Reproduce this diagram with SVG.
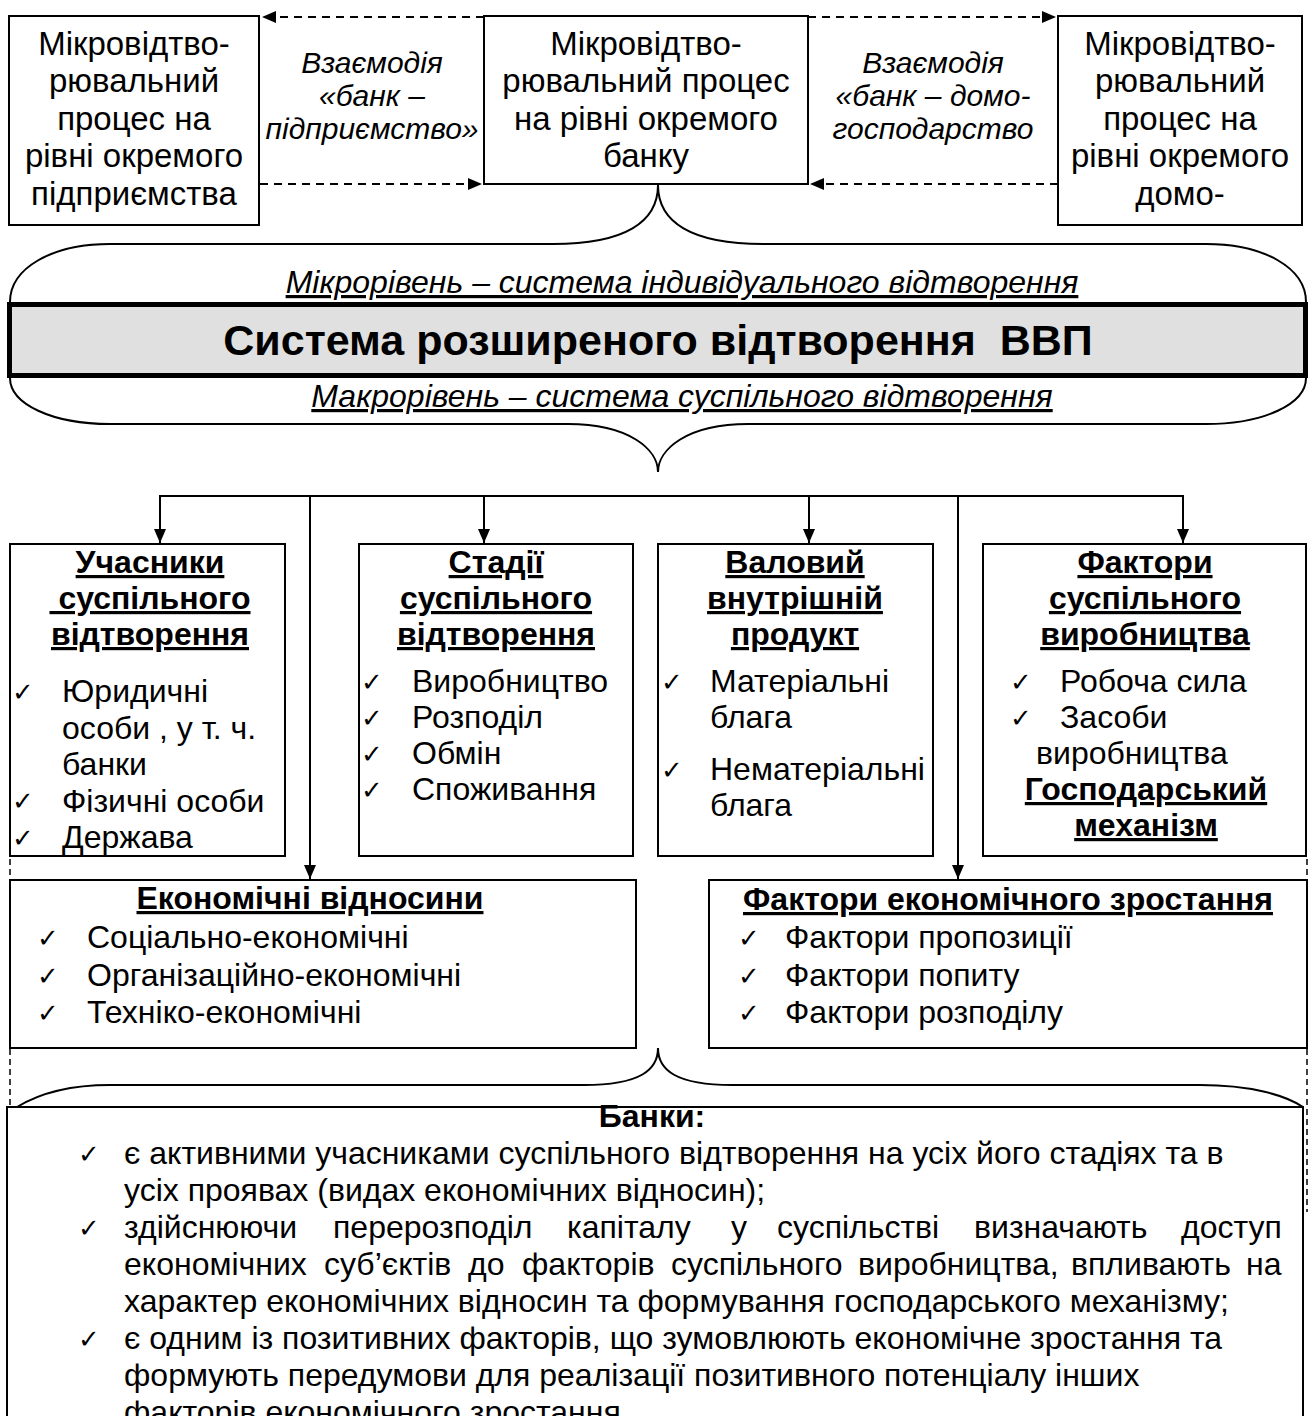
<svg xmlns="http://www.w3.org/2000/svg" width="1309" height="1416" viewBox="0 0 1309 1416">
<style>
text{font-family:"Liberation Sans",Arial,sans-serif;fill:#000}
.t{font-size:32px}
.tc{font-size:33px;text-anchor:middle}
.it{font-size:30px;font-style:italic;text-anchor:middle}
.lvl{font-size:32px;font-style:italic;text-anchor:middle;text-decoration:underline;text-decoration-skip-ink:none}
.h{font-size:32px;font-weight:bold;text-anchor:middle;text-decoration:underline;text-decoration-skip-ink:none}
.ck{font-family:"DejaVu Sans",sans-serif;font-size:26px}
.box{fill:#fff;stroke:#000;stroke-width:2}
.ln{fill:none;stroke:#000;stroke-width:2}
.dash{fill:none;stroke:#000;stroke-width:2;stroke-dasharray:8 6}
.dv{fill:none;stroke:#000;stroke-width:1.5;stroke-dasharray:6 4}
</style>
<defs>
<marker id="arr" markerUnits="userSpaceOnUse" markerWidth="14" markerHeight="12" refX="14" refY="6" orient="auto">
<path d="M0,0 L14,6 L0,12 z" fill="#000"/>
</marker>
</defs>
<rect width="1309" height="1416" fill="#fff"/>

<g id="connectors">
<line class="dash" x1="484" y1="17" x2="262" y2="17" marker-end="url(#arr)"/>
<line class="dash" x1="260" y1="184" x2="482" y2="184" marker-end="url(#arr)"/>
<line class="dash" x1="808" y1="17" x2="1056" y2="17" marker-end="url(#arr)"/>
<line class="dash" x1="1058" y1="184" x2="810" y2="184" marker-end="url(#arr)"/>
<path class="ln" d="M10 302 C10 268 52 244 110 244 L553 244 C625 244 658 222 658 185 C658 222 691 244 763 244 L1206 244 C1264 244 1306 268 1306 302"/>
<path class="ln" d="M10 378 C10 404 52 424 110 424 L568 424 C630 424 658 450 658 472 C658 450 686 424 748 424 L1206 424 C1264 424 1306 404 1306 378"/>
<line class="ln" x1="160" y1="496" x2="1183" y2="496"/>
<line class="ln" x1="160" y1="495" x2="160" y2="543" marker-end="url(#arr)"/>
<line class="ln" x1="484" y1="495" x2="484" y2="543" marker-end="url(#arr)"/>
<line class="ln" x1="809" y1="495" x2="809" y2="543" marker-end="url(#arr)"/>
<line class="ln" x1="1183" y1="495" x2="1183" y2="543" marker-end="url(#arr)"/>
<line class="ln" x1="310" y1="496" x2="310" y2="879" marker-end="url(#arr)"/>
<line class="ln" x1="958" y1="496" x2="958" y2="879" marker-end="url(#arr)"/>
<line class="dv" x1="10" y1="859" x2="10" y2="1107"/>
<line class="dv" x1="1307" y1="859" x2="1307" y2="1212"/>
<path class="ln" d="M17 1107 C40 1093 70 1085 110 1085 L584 1085 C640 1085 658 1070 658 1048 C658 1070 676 1085 732 1085 L1200 1085 C1250 1085 1285 1095 1303 1107"/>
</g>

<g id="node-enterprise">
<rect class="box" x="9" y="16" width="250" height="209"/>
<text class="tc" x="134" y="54.5">Мікровідтво-</text>
<text class="tc" x="134" y="92">рювальний</text>
<text class="tc" x="134" y="129.5">процес на</text>
<text class="tc" x="134" y="167">рівні окремого</text>
<text class="tc" x="134" y="204.5">підприємства</text>
</g>

<g id="label-bank-enterprise">
<text class="it" x="372" y="73">Взаємодія</text>
<text class="it" x="372" y="106">«банк –</text>
<text class="it" x="372" y="139">підприємство»</text>
</g>

<g id="node-bank">
<rect class="box" x="484" y="16" width="324" height="168"/>
<text class="tc" x="646" y="54.5">Мікровідтво-</text>
<text class="tc" x="646" y="92">рювальний процес</text>
<text class="tc" x="646" y="129.5">на рівні окремого</text>
<text class="tc" x="646" y="167">банку</text>
</g>

<g id="label-bank-household">
<text class="it" x="933" y="73">Взаємодія</text>
<text class="it" x="933" y="106">«банк – домо-</text>
<text class="it" x="933" y="139">господарство</text>
</g>

<g id="node-household">
<rect class="box" x="1058" y="16" width="244" height="209"/>
<text class="tc" x="1180" y="54.5">Мікровідтво-</text>
<text class="tc" x="1180" y="92">рювальний</text>
<text class="tc" x="1180" y="129.5">процес на</text>
<text class="tc" x="1180" y="167">рівні окремого</text>
<text class="tc" x="1180" y="204.5">домо-</text>
</g>

<g id="node-system">
<text class="lvl" x="682" y="293">Мікрорівень – система індивідуального відтворення</text>
<rect x="9.5" y="304.5" width="1296" height="71" fill="#e0e0e0" stroke="#000" stroke-width="5"/>
<text x="658" y="355" font-size="43" font-weight="bold" text-anchor="middle" xml:space="preserve">Система розширеного відтворення  ВВП</text>
<text class="lvl" x="682" y="407">Макрорівень – система суспільного відтворення</text>
</g>

<g id="node-participants">
<rect class="box" x="10" y="544" width="275" height="312"/>
<text class="h" x="150" y="573">Учасники</text>
<text class="h" x="150" y="609" xml:space="preserve"> суспільного</text>
<text class="h" x="150" y="645">відтворення</text>
<text class="ck" x="12" y="701">✓</text><text class="t" x="62" y="702">Юридичні</text>
<text class="t" x="62" y="738.5">особи , у т. ч.</text>
<text class="t" x="62" y="775">банки</text>
<text class="ck" x="12" y="810">✓</text><text class="t" x="62" y="811.5">Фізичні особи</text>
<text class="ck" x="12" y="847">✓</text><text class="t" x="62" y="848">Держава</text>
</g>

<g id="node-stages">
<rect class="box" x="359" y="544" width="274" height="312"/>
<text class="h" x="496" y="573">Стадії</text>
<text class="h" x="496" y="609">суспільного</text>
<text class="h" x="496" y="645">відтворення</text>
<text class="ck" x="361" y="691">✓</text><text class="t" x="412" y="692">Виробництво</text>
<text class="ck" x="361" y="727">✓</text><text class="t" x="412" y="728">Розподіл</text>
<text class="ck" x="361" y="763">✓</text><text class="t" x="412" y="764">Обмін</text>
<text class="ck" x="361" y="799">✓</text><text class="t" x="412" y="800">Споживання</text>
</g>

<g id="node-gdp">
<rect class="box" x="658" y="544" width="275" height="312"/>
<text class="h" x="795" y="573">Валовий</text>
<text class="h" x="795" y="609">внутрішній</text>
<text class="h" x="795" y="645">продукт</text>
<text class="ck" x="661" y="691">✓</text><text class="t" x="710" y="692">Матеріальні</text>
<text class="t" x="710" y="728">блага</text>
<text class="ck" x="661" y="779">✓</text><text class="t" x="710" y="780">Нематеріальні</text>
<text class="t" x="710" y="816">блага</text>
</g>

<g id="node-factors-production">
<rect class="box" x="983" y="544" width="323" height="312"/>
<text class="h" x="1145" y="573">Фактори</text>
<text class="h" x="1145" y="609">суспільного</text>
<text class="h" x="1145" y="645">виробництва</text>
<text class="ck" x="1010" y="691">✓</text><text class="t" x="1060" y="692">Робоча сила</text>
<text class="ck" x="1010" y="727">✓</text><text class="t" x="1060" y="728">Засоби</text>
<text class="t" x="1036" y="764">виробництва</text>
<text class="h" x="1146" y="800">Господарський</text>
<text class="h" x="1146" y="836">механізм</text>
</g>

<g id="node-economic-relations">
<rect class="box" x="10" y="880" width="626" height="168"/>
<text class="h" x="310" y="909">Економічні відносини</text>
<text class="ck" x="37" y="947">✓</text><text class="t" x="87" y="948">Соціально-економічні</text>
<text class="ck" x="37" y="985">✓</text><text class="t" x="87" y="986">Організаційно-економічні</text>
<text class="ck" x="37" y="1022">✓</text><text class="t" x="87" y="1023">Техніко-економічні</text>
</g>

<g id="node-growth-factors">
<rect class="box" x="709" y="880" width="598" height="168"/>
<text class="h" x="1008" y="910">Фактори економічного зростання</text>
<text class="ck" x="738" y="947">✓</text><text class="t" x="785" y="948">Фактори пропозиції</text>
<text class="ck" x="738" y="985">✓</text><text class="t" x="785" y="986">Фактори попиту</text>
<text class="ck" x="738" y="1022">✓</text><text class="t" x="785" y="1023">Фактори розподілу</text>
</g>

<g id="node-banks">
<rect class="box" x="7" y="1107" width="1296" height="330"/>
<text x="652" y="1127" font-size="32" font-weight="bold" text-anchor="middle">Банки:</text>
<text class="ck" x="78" y="1163">✓</text>
<text class="t" x="124" y="1164">є активними учасниками суспільного відтворення на усіх його стадіях та в</text>
<text class="t" x="124" y="1201">усіх проявах (видах економічних відносин);</text>
<text class="ck" x="78" y="1237">✓</text>
<text class="t" y="1238"><tspan x="124">здійснюючи</tspan><tspan x="333">перерозподіл</tspan><tspan x="567">капіталу</tspan><tspan x="731">у</tspan><tspan x="777">суспільстві</tspan><tspan x="974">визначають</tspan><tspan x="1181">доступ</tspan></text>
<text class="t" y="1275"><tspan x="124">економічних</tspan><tspan x="324">суб’єктів</tspan><tspan x="468">до</tspan><tspan x="522">факторів</tspan><tspan x="671">суспільного</tspan><tspan x="858">виробництва,</tspan><tspan x="1071">впливають</tspan><tspan x="1246">на</tspan></text>
<text class="t" x="124" y="1312">характер економічних відносин та формування господарського механізму;</text>
<text class="ck" x="78" y="1348">✓</text>
<text class="t" x="124" y="1349">є одним із позитивних факторів, що зумовлюють економічне зростання та</text>
<text class="t" x="124" y="1386">формують передумови для реалізації позитивного потенціалу інших</text>
<text class="t" x="124" y="1423">факторів економічного зростання.</text>
</g>
</svg>
